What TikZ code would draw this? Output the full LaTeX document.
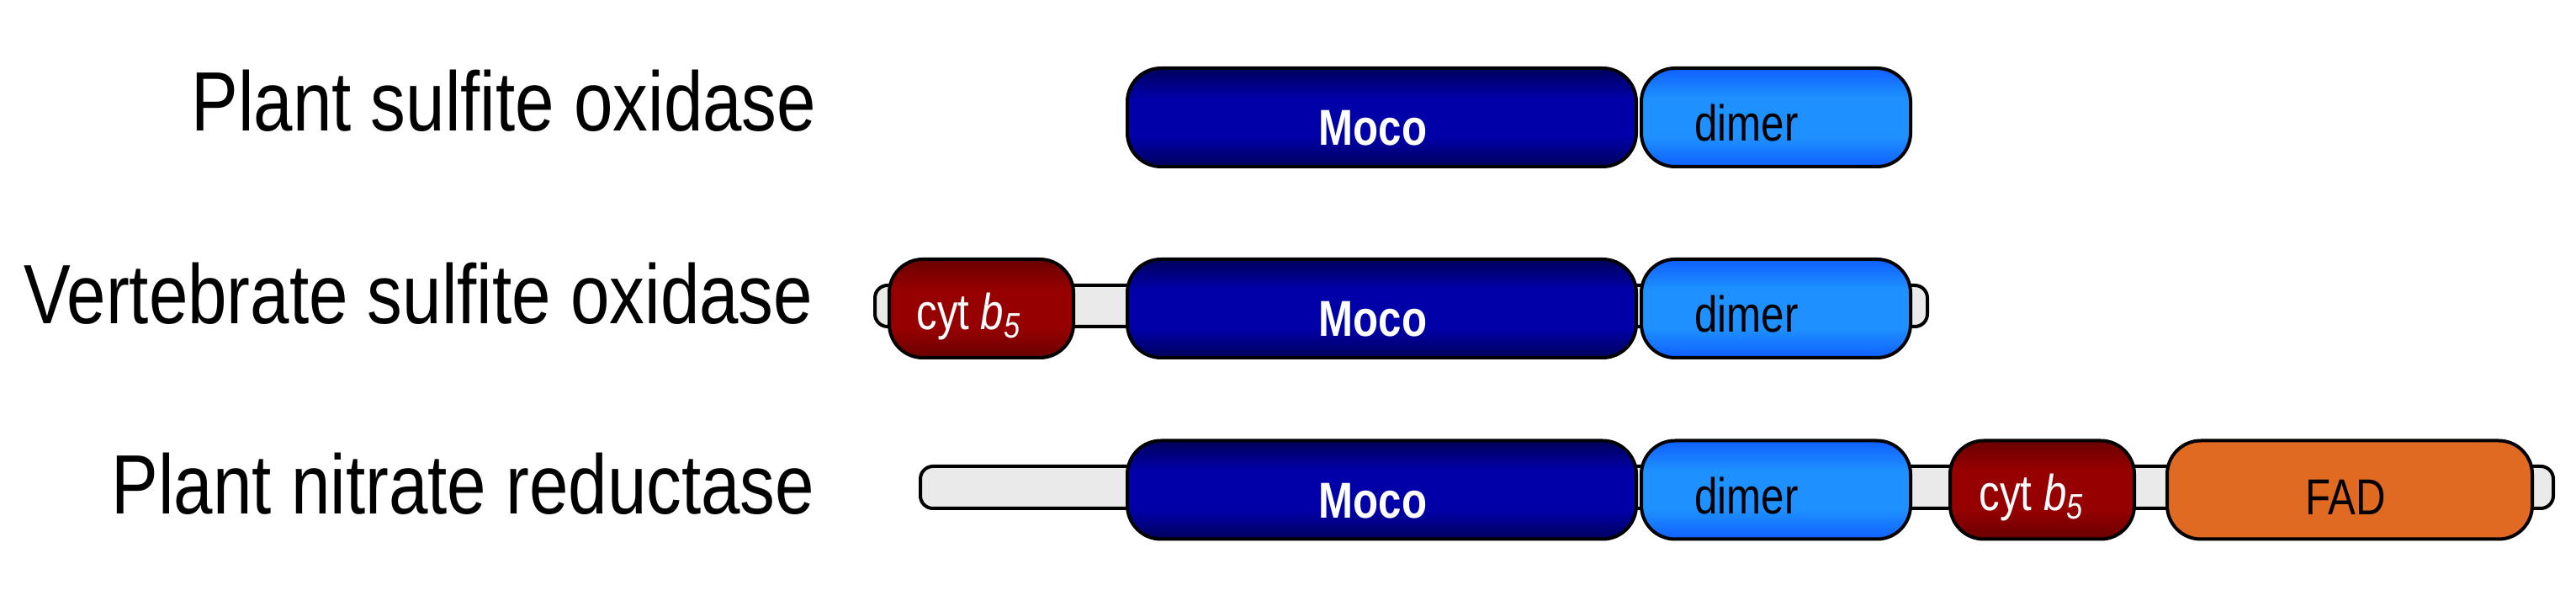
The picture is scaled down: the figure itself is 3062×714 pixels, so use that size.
\documentclass[tikz,border=0pt]{standalone}
\usepackage{fontspec}
\newfontfamily\narrowfont[FakeStretch=0.82]{Liberation Sans}
\newfontfamily\labelfont[FakeStretch=0.835]{Liberation Sans}
\usetikzlibrary{shadings}
\definecolor{mocoedge}{HTML}{00005C}
\definecolor{mocomid}{HTML}{0000A8}
\definecolor{dimeredge}{HTML}{1060FF}
\definecolor{dimermid}{HTML}{1E90FF}
\definecolor{cytedge}{HTML}{6A0000}
\definecolor{cytmid}{HTML}{960000}
\definecolor{fadfill}{HTML}{E06A22}
\definecolor{linkfill}{HTML}{EAEAEA}
\pgfdeclareverticalshading{mocoshade}{100bp}{color(0bp)=(mocoedge); color(25bp)=(mocoedge); color(40bp)=(mocomid); color(60bp)=(mocomid); color(75bp)=(mocoedge); color(100bp)=(mocoedge)}
\pgfdeclareverticalshading{dimershade}{100bp}{color(0bp)=(dimeredge); color(25bp)=(dimeredge); color(40bp)=(dimermid); color(60bp)=(dimermid); color(75bp)=(dimeredge); color(100bp)=(dimeredge)}
\pgfdeclareverticalshading{cytshade}{100bp}{color(0bp)=(cytedge); color(25bp)=(cytedge); color(40bp)=(cytmid); color(60bp)=(cytmid); color(75bp)=(cytedge); color(100bp)=(cytedge)}
\begin{document}
\begin{tikzpicture}[x=0.25pt,y=-0.25pt,
  domainbox/.style={draw=black, line width=1pt, rounded corners=10pt, inner sep=0pt, minimum height=29.25pt},
  mocobox/.style={domainbox, shading=mocoshade, minimum width=151.25pt},
  dimerbox/.style={domainbox, shading=dimershade, minimum width=80pt},
  cytbox/.style={domainbox, shading=cytshade, minimum width=54.75pt},
  fadbox/.style={domainbox, fill=fadfill, minimum width=108.5pt},
  linkbar/.style={draw=black, line width=1pt, fill=linkfill, rounded corners=3.75pt, inner sep=0pt},
  lbl/.style={inner sep=0pt, font=\labelfont\fontsize{25}{30}\selectfont},
  intext/.style={inner sep=0pt, anchor=base, font=\narrowfont\fontsize{15}{18}\selectfont},
  mocotext/.style={intext, text=white, font=\narrowfont\bfseries\fontsize{15}{18}\selectfont},
  whitetext/.style={intext, text=white},
  blacktext/.style={intext, text=black}
]
\useasboundingbox (0,0) rectangle (3062,714);

% labels
\node[lbl, anchor=base east] (l1) at (971,156) {Plant sulfite oxidase};
\node[lbl, anchor=base east] (l2) at (967,385) {Vertebrate sulfite oxidase};
\node[lbl, anchor=base east] (l3) at (969,611) {Plant nitrate reductase};

% row 1
\node[mocobox] (m1) at (1642.5,139.5) {};
\node[dimerbox] (d1) at (2111,139.5) {};
\node[mocotext] (mt1) at (1632,173) {Moco};
\node[blacktext] (dt1) at (2076,168) {dimer};

% row 2
\node[linkbar, minimum width=312.75pt, minimum height=12.25pt] (k2) at (1665.5,363.5) {};
\node[cytbox] (c2) at (1166.5,366.5) {};
\node[mocobox] (m2) at (1642.5,366.5) {};
\node[dimerbox] (d2) at (2111,366.5) {};
\node[whitetext] (ct2) at (1152,392) {cyt \textit{b}\textsubscript{\textit{5}}};
\node[mocotext] (mt2) at (1632,400) {Moco};
\node[blacktext] (dt2) at (2076,395) {dimer};

% row 3
\node[linkbar, minimum width=485.25pt, minimum height=12.5pt] (k3) at (2064.5,579) {};
\node[mocobox] (m3) at (1642.5,582) {};
\node[dimerbox] (d3) at (2111,582) {};
\node[cytbox] (c3) at (2427.5,582) {};
\node[fadbox] (f3) at (2793,582) {};
\node[mocotext] (mt3) at (1632,615.5) {Moco};
\node[blacktext] (dt3) at (2076,610.5) {dimer};
\node[whitetext] (ct3) at (2415,607) {cyt \textit{b}\textsubscript{\textit{5}}};
\node[blacktext] (ft3) at (2788,612) {FAD};
\end{tikzpicture}
\end{document}
